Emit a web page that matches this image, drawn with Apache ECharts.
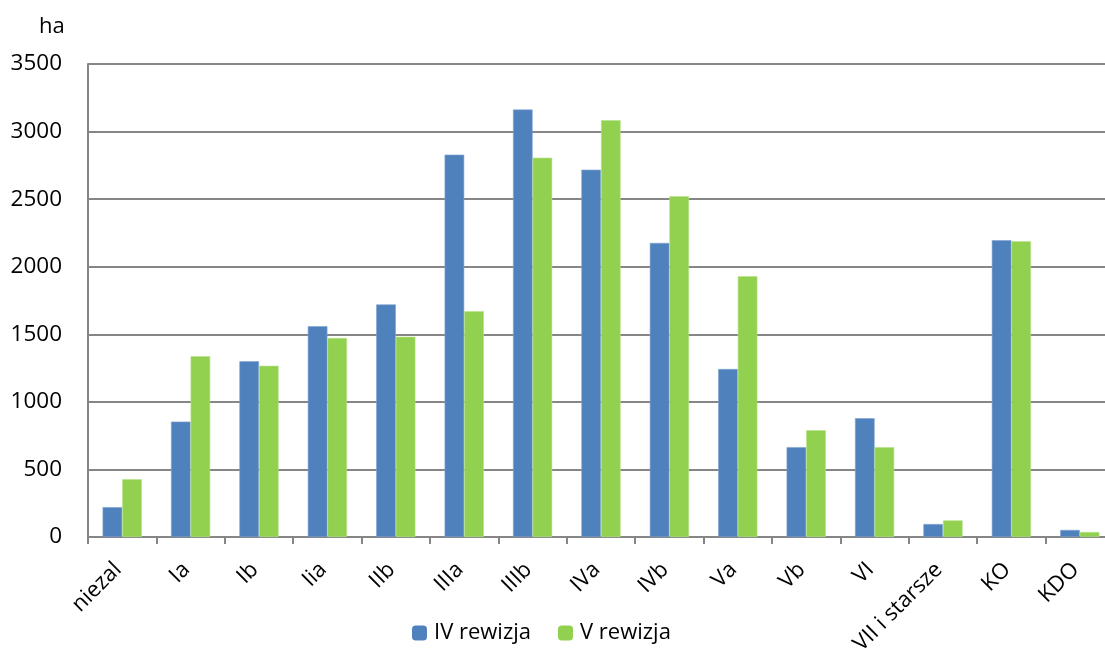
<!DOCTYPE html>
<html>
<head>
<meta charset="utf-8">
<script src="https://cdn.jsdelivr.net/npm/echarts@6/dist/echarts.min.js"></script>
<style>html,body{margin:0;padding:0;background:#fff}#c{width:1105px;height:653px}</style>
</head>
<body>
<div id="c"></div>
<script>
const categories = ['niezal','Ia','Ib','Iia','IIb','IIIa','IIIb','IVa','IVb','Va','Vb','VI','VII i starsze','KO','KDO'];
const seriesNames = ['IV rewizja','V rewizja'];
const rev4 = [221, 854, 1300, 1560, 1721, 2829, 3163, 2718, 2176, 1243, 665, 879, 96, 2196, 52];
const rev5 = [428, 1337, 1267, 1472, 1482, 1671, 2806, 3084, 2521, 1930, 790, 665, 123, 2188, 37];
const yTicks = [0, 500, 1000, 1500, 2000, 2500, 3000, 3500];

const font = 'Open Sans';
const chart = echarts.init(document.getElementById('c'), null, {renderer:'canvas'});
chart.setOption({
  animation: false,
  textStyle: {fontFamily: font},
  title: {text: 'ha', left: 34, top: 11, textStyle: {fontFamily: font, fontSize: 22, fontWeight: 'normal', color: '#000'}},
  legend: {
    bottom: 4, left: 407,
    itemWidth: 15, itemHeight: 15, itemGap: 27,
    itemStyle: {borderWidth: 0},
    textStyle: {fontFamily: font, fontSize: 22, color: '#000', padding: [0, 0, 0, 2]},
    data: seriesNames
  },
  grid: {left: 88, right: -9, top: 64, bottom: 116, containLabel: false, outerBoundsMode: 'none'},
  xAxis: {
    type: 'category', data: categories,
    axisLine: {lineStyle: {color: '#868686', width: 2}},
    axisTick: {show: true, interval: 0, length: 7, lineStyle: {color: '#868686', width: 2}},
    axisLabel: {interval: 0, rotate: 45, fontSize: 22, color: '#000', margin: 25, padding: [0, 6, 0, 0], fontFamily: font}
  },
  yAxis: {
    type: 'value', min: yTicks[0], max: yTicks[yTicks.length-1], interval: 500,
    axisLine: {show: true, lineStyle: {color: '#868686', width: 2}},
    axisTick: {show: false},
    axisLabel: {fontSize: 22.5, color: '#000', margin: 26, fontFamily: font, formatter: v => String(v)},
    splitLine: {lineStyle: {color: '#868686', width: 2}}
  },
  series: [
    {name: seriesNames[0], type: 'bar', data: rev4, barWidth: 19.6, barGap: '0%',
     itemStyle: {color: '#4F81BD', borderColor: '#7FA3D0', borderWidth: 0.6}},
    {name: seriesNames[1], type: 'bar', data: rev5, barWidth: 19.6, barGap: '0%',
     itemStyle: {color: '#92D050', borderColor: '#B5E28A', borderWidth: 0.6}}
  ]
});
</script>
</body>
</html>
